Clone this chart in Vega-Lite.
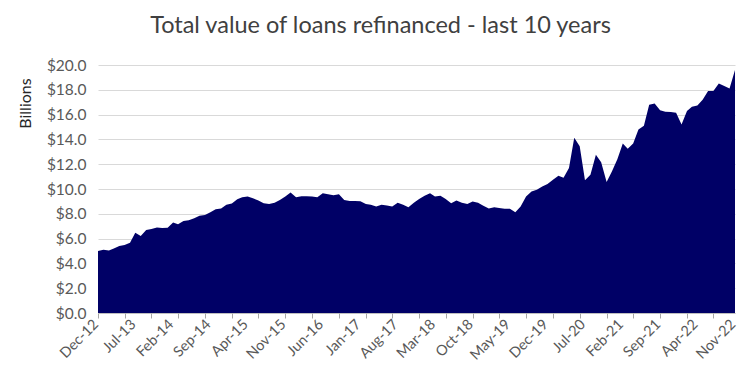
{
  "$schema": "https://vega.github.io/schema/vega-lite/v6.json",
  "width": 637,
  "height": 248,
  "autosize": {"type": "none"},
  "padding": {"left": 98, "top": 65, "right": 2, "bottom": 68},
  "background": "white",
  "config": {"view": {"stroke": null}, "font": "Lato"},
  "title": {"text": "Total value of loans refinanced - last 10 years", "fontSize": 23.5, "fontWeight": "normal", "color": "#404040", "font": "Lato", "anchor": "middle", "dx": -36, "offset": 21},
  "data": {"values": [
    {"d": "2012/12/01", "v": 5.0}, {"d": "2013/01/01", "v": 5.1}, {"d": "2013/02/01", "v": 5.05}, {"d": "2013/03/01", "v": 5.2},
    {"d": "2013/04/01", "v": 5.4}, {"d": "2013/05/01", "v": 5.48}, {"d": "2013/06/01", "v": 5.67}, {"d": "2013/07/01", "v": 6.48},
    {"d": "2013/08/01", "v": 6.2}, {"d": "2013/09/01", "v": 6.7}, {"d": "2013/10/01", "v": 6.78}, {"d": "2013/11/01", "v": 6.9},
    {"d": "2013/12/01", "v": 6.86}, {"d": "2014/01/01", "v": 6.88}, {"d": "2014/02/01", "v": 7.3}, {"d": "2014/03/01", "v": 7.15},
    {"d": "2014/04/01", "v": 7.42}, {"d": "2014/05/01", "v": 7.48}, {"d": "2014/06/01", "v": 7.64}, {"d": "2014/07/01", "v": 7.85},
    {"d": "2014/08/01", "v": 7.9}, {"d": "2014/09/01", "v": 8.12}, {"d": "2014/10/01", "v": 8.37}, {"d": "2014/11/01", "v": 8.42},
    {"d": "2014/12/01", "v": 8.72}, {"d": "2015/01/01", "v": 8.83}, {"d": "2015/02/01", "v": 9.18}, {"d": "2015/03/01", "v": 9.34},
    {"d": "2015/04/01", "v": 9.39}, {"d": "2015/05/01", "v": 9.26}, {"d": "2015/06/01", "v": 9.07}, {"d": "2015/07/01", "v": 8.85},
    {"d": "2015/08/01", "v": 8.8}, {"d": "2015/09/01", "v": 8.9}, {"d": "2015/10/01", "v": 9.12}, {"d": "2015/11/01", "v": 9.39},
    {"d": "2015/12/01", "v": 9.72}, {"d": "2016/01/01", "v": 9.34}, {"d": "2016/02/01", "v": 9.42}, {"d": "2016/03/01", "v": 9.42},
    {"d": "2016/04/01", "v": 9.39}, {"d": "2016/05/01", "v": 9.34}, {"d": "2016/06/01", "v": 9.66}, {"d": "2016/07/01", "v": 9.58},
    {"d": "2016/08/01", "v": 9.5}, {"d": "2016/09/01", "v": 9.58}, {"d": "2016/10/01", "v": 9.12}, {"d": "2016/11/01", "v": 9.04},
    {"d": "2016/12/01", "v": 9.04}, {"d": "2017/01/01", "v": 9.02}, {"d": "2017/02/01", "v": 8.8}, {"d": "2017/03/01", "v": 8.72},
    {"d": "2017/04/01", "v": 8.58}, {"d": "2017/05/01", "v": 8.72}, {"d": "2017/06/01", "v": 8.66}, {"d": "2017/07/01", "v": 8.58},
    {"d": "2017/08/01", "v": 8.9}, {"d": "2017/09/01", "v": 8.72}, {"d": "2017/10/01", "v": 8.53}, {"d": "2017/11/01", "v": 8.9},
    {"d": "2017/12/01", "v": 9.2}, {"d": "2018/01/01", "v": 9.45}, {"d": "2018/02/01", "v": 9.66}, {"d": "2018/03/01", "v": 9.39},
    {"d": "2018/04/01", "v": 9.45}, {"d": "2018/05/01", "v": 9.2}, {"d": "2018/06/01", "v": 8.85}, {"d": "2018/07/01", "v": 9.07},
    {"d": "2018/08/01", "v": 8.9}, {"d": "2018/09/01", "v": 8.8}, {"d": "2018/10/01", "v": 9.0}, {"d": "2018/11/01", "v": 8.9},
    {"d": "2018/12/01", "v": 8.64}, {"d": "2019/01/01", "v": 8.42}, {"d": "2019/02/01", "v": 8.53}, {"d": "2019/03/01", "v": 8.46},
    {"d": "2019/04/01", "v": 8.4}, {"d": "2019/05/01", "v": 8.4}, {"d": "2019/06/01", "v": 8.12}, {"d": "2019/07/01", "v": 8.58},
    {"d": "2019/08/01", "v": 9.39}, {"d": "2019/09/01", "v": 9.8}, {"d": "2019/10/01", "v": 9.93}, {"d": "2019/11/01", "v": 10.2},
    {"d": "2019/12/01", "v": 10.4}, {"d": "2020/01/01", "v": 10.75}, {"d": "2020/02/01", "v": 11.07}, {"d": "2020/03/01", "v": 10.9},
    {"d": "2020/04/01", "v": 11.7}, {"d": "2020/05/01", "v": 14.13}, {"d": "2020/06/01", "v": 13.45}, {"d": "2020/07/01", "v": 10.7},
    {"d": "2020/08/01", "v": 11.15}, {"d": "2020/09/01", "v": 12.77}, {"d": "2020/10/01", "v": 12.15}, {"d": "2020/11/01", "v": 10.56},
    {"d": "2020/12/01", "v": 11.42}, {"d": "2021/01/01", "v": 12.4}, {"d": "2021/02/01", "v": 13.66}, {"d": "2021/03/01", "v": 13.25},
    {"d": "2021/04/01", "v": 13.66}, {"d": "2021/05/01", "v": 14.8}, {"d": "2021/06/01", "v": 15.1}, {"d": "2021/07/01", "v": 16.8},
    {"d": "2021/08/01", "v": 16.9}, {"d": "2021/09/01", "v": 16.35}, {"d": "2021/10/01", "v": 16.22}, {"d": "2021/11/01", "v": 16.2},
    {"d": "2021/12/01", "v": 16.14}, {"d": "2022/01/01", "v": 15.2}, {"d": "2022/02/01", "v": 16.3}, {"d": "2022/03/01", "v": 16.63},
    {"d": "2022/04/01", "v": 16.73}, {"d": "2022/05/01", "v": 17.2}, {"d": "2022/06/01", "v": 17.9}, {"d": "2022/07/01", "v": 17.9},
    {"d": "2022/08/01", "v": 18.5}, {"d": "2022/09/01", "v": 18.3}, {"d": "2022/10/01", "v": 18.1}, {"d": "2022/11/01", "v": 19.6}
  ]},
  "layer": [
    {
      "mark": {"type": "area", "color": "#000066", "interpolate": "linear"},
      "encoding": {
        "x": {
          "field": "d", "type": "temporal",
          "scale": {"domain": [{"year": 2012, "month": 12, "date": 1}, {"year": 2022, "month": 11, "date": 1}]},
          "axis": {
            "orient": "bottom",
            "title": null, "format": "%b-%y", "labelAngle": -45, "labelFontSize": 14.5, "labelColor": "#595959",
            "labelFont": "Lato", "grid": false, "ticks": false, "domain": true, "domainColor": "#bfbfbf", "labelPadding": 9,
            "labelOffset": -2,
            "labelAlign": "right", "labelBaseline": "middle", "labelFlush": false, "labelOverlap": false,
            "values": [
              {"year": 2012, "month": 12, "date": 1}, {"year": 2013, "month": 7, "date": 1}, {"year": 2014, "month": 2, "date": 1},
              {"year": 2014, "month": 9, "date": 1}, {"year": 2015, "month": 4, "date": 1}, {"year": 2015, "month": 11, "date": 1},
              {"year": 2016, "month": 6, "date": 1}, {"year": 2017, "month": 1, "date": 1}, {"year": 2017, "month": 8, "date": 1},
              {"year": 2018, "month": 3, "date": 1}, {"year": 2018, "month": 10, "date": 1}, {"year": 2019, "month": 5, "date": 1},
              {"year": 2019, "month": 12, "date": 1}, {"year": 2020, "month": 7, "date": 1}, {"year": 2021, "month": 2, "date": 1},
              {"year": 2021, "month": 9, "date": 1}, {"year": 2022, "month": 4, "date": 1}, {"year": 2022, "month": 11, "date": 1}
            ]
          }
        },
        "y": {
          "field": "v", "type": "quantitative",
          "scale": {"domain": [0, 20], "nice": false},
          "axis": {
            "title": "Billions", "titleFont": "Lato", "titleFontSize": 16, "titleFontWeight": "normal", "titleColor": "#262626",
            "titleAngle": -90, "titleX": -73, "titleY": 38, "titleAlign": "center", "titleBaseline": "middle",
            "values": [0, 2, 4, 6, 8, 10, 12, 14, 16, 18, 20], "format": "$.1f",
            "labelFontSize": 15.5, "labelColor": "#595959", "labelFont": "Lato", "labelPadding": 12,
            "ticks": false, "domain": false, "gridColor": "#d9d9d9", "gridWidth": 1
          }
        }
      }
    },
    {
      "mark": {"type": "point", "opacity": 0},
      "encoding": {
        "x": {
          "field": "d", "type": "temporal",
          "axis": {
            "orient": "bottom",
            "title": null, "labels": false, "ticks": true, "tickSize": 5, "tickColor": "#a6a6a6", "domain": false, "grid": false,
            "values": [
              {"year": 2012, "month": 12, "date": 1}, {"year": 2013, "month": 5, "date": 1}, {"year": 2013, "month": 10, "date": 1},
              {"year": 2014, "month": 3, "date": 1}, {"year": 2014, "month": 8, "date": 1}, {"year": 2015, "month": 1, "date": 1},
              {"year": 2015, "month": 6, "date": 1}, {"year": 2015, "month": 11, "date": 1}, {"year": 2016, "month": 4, "date": 1},
              {"year": 2016, "month": 9, "date": 1}, {"year": 2017, "month": 2, "date": 1}, {"year": 2017, "month": 7, "date": 1},
              {"year": 2017, "month": 12, "date": 1}, {"year": 2018, "month": 5, "date": 1}, {"year": 2018, "month": 10, "date": 1},
              {"year": 2019, "month": 3, "date": 1}, {"year": 2019, "month": 8, "date": 1}, {"year": 2020, "month": 1, "date": 1},
              {"year": 2020, "month": 6, "date": 1}, {"year": 2020, "month": 11, "date": 1}, {"year": 2021, "month": 4, "date": 1},
              {"year": 2021, "month": 9, "date": 1}, {"year": 2022, "month": 2, "date": 1}, {"year": 2022, "month": 7, "date": 1}
            ]
          }
        }
      }
    }
  ],
  "resolve": {"axis": {"x": "independent"}}
}
